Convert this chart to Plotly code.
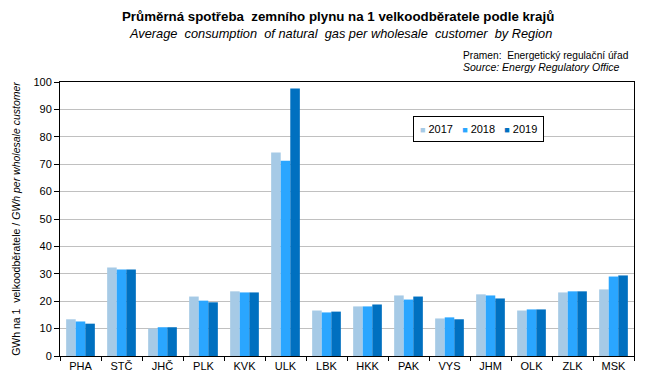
import plotly.graph_objects as go

regions = ["PHA", "STČ", "JHČ", "PLK", "KVK", "ULK", "LBK", "HKK", "PAK", "VYS", "JHM", "OLK", "ZLK", "MSK"]
v2017 = [13.4, 32.3, 10.0, 21.7, 23.6, 74.3, 16.6, 18.1, 22.1, 13.7, 22.5, 16.6, 23.2, 24.3]
v2018 = [12.6, 31.6, 10.5, 20.2, 23.2, 71.3, 15.9, 18.1, 20.6, 14.1, 22.1, 17.0, 23.6, 29.0]
v2019 = [11.8, 31.6, 10.5, 19.6, 23.2, 97.6, 16.2, 18.8, 21.7, 13.4, 21.0, 17.0, 23.6, 29.4]
years = ["2017", "2018", "2019"]
colors = ["#a6cae6", "#2aa6ff", "#0070c0"]
y_ticks = [0, 10, 20, 30, 40, 50, 60, 70, 80, 90, 100]

FONT = "Liberation Sans, Arial, sans-serif"
OFF = 8  # page body margin offset
W, H = 651 - OFF, 383 - OFF
L, T = 60 - OFF, 82 - OFF
R = W - (634 - OFF)
B = H - (356 - OFF)
PW, PH = W - L - R, H - T - B


def px_x(x):
    return (x - OFF - L) / PW


def px_y(y):
    return (H - B - (y - OFF)) / PH


fig = go.Figure()
for name, vals, col in zip(years, [v2017, v2018, v2019], colors):
    fig.add_trace(go.Bar(x=regions, y=vals, name=name, showlegend=False,
                         marker=dict(color=col, line=dict(width=0))))

legend_text = "&nbsp;&nbsp;&nbsp;".join(
    f"<span style='color:{c};font-size:9px'>■</span>&nbsp;{y}" for y, c in zip(years, colors))

fig.update_layout(
    width=W, height=H,
    margin=dict(l=L, r=R, t=T, b=B),
    paper_bgcolor="white", plot_bgcolor="white",
    font=dict(family=FONT, size=11, color="black"),
    barmode="group", bargap=0.3, bargroupgap=0,
    xaxis=dict(showline=True, linecolor="black", linewidth=1, mirror=True, automargin=False,
               ticks="outside", ticklen=4, tickcolor="black", tickson="boundaries",
               tickfont=dict(family=FONT, size=11)),
    yaxis=dict(range=[0, 100], tickvals=y_ticks, showline=True, linecolor="black", linewidth=1,
               mirror=True, ticks="outside", ticklen=5, tickcolor="black", automargin=False,
               showgrid=True, gridcolor="#c0c0c0", gridwidth=1, zeroline=False,
               tickfont=dict(family=FONT, size=11),
               title=dict(text="GWh na 1  velkoodběratele / <i>GWh per wholesale customer</i>",
                          font=dict(family=FONT, size=10.5), standoff=10)),
    annotations=[
        dict(text="<b>Průměrná spotřeba  zemního plynu na 1 velkoodběratele podle krajů</b>",
             xref="paper", yref="paper", x=px_x(338), y=px_y(17), xanchor="center", yanchor="middle",
             showarrow=False, font=dict(family=FONT, size=13.3)),
        dict(text="<i>Average  consumption  of natural  gas per wholesale  customer  by Region</i>",
             xref="paper", yref="paper", x=px_x(340), y=px_y(33), xanchor="center", yanchor="middle",
             showarrow=False, font=dict(family=FONT, size=12.8)),
        dict(text="Pramen:  Energetický regulační úřad",
             xref="paper", yref="paper", x=px_x(461), y=px_y(55), xanchor="left", yanchor="middle",
             showarrow=False, font=dict(family=FONT, size=10.2)),
        dict(text="<i>Source: Energy Regulatory Office</i>",
             xref="paper", yref="paper", x=px_x(461), y=px_y(67), xanchor="left", yanchor="middle",
             showarrow=False, font=dict(family=FONT, size=10.5)),
        dict(text=legend_text,
             xref="paper", yref="paper", x=px_x(478.5), y=px_y(129),
             xanchor="center", yanchor="middle", showarrow=False,
             bordercolor="black", borderwidth=1, borderpad=6, bgcolor="white",
             font=dict(family=FONT, size=11)),
    ],
)

fig.write_html("out.html")
